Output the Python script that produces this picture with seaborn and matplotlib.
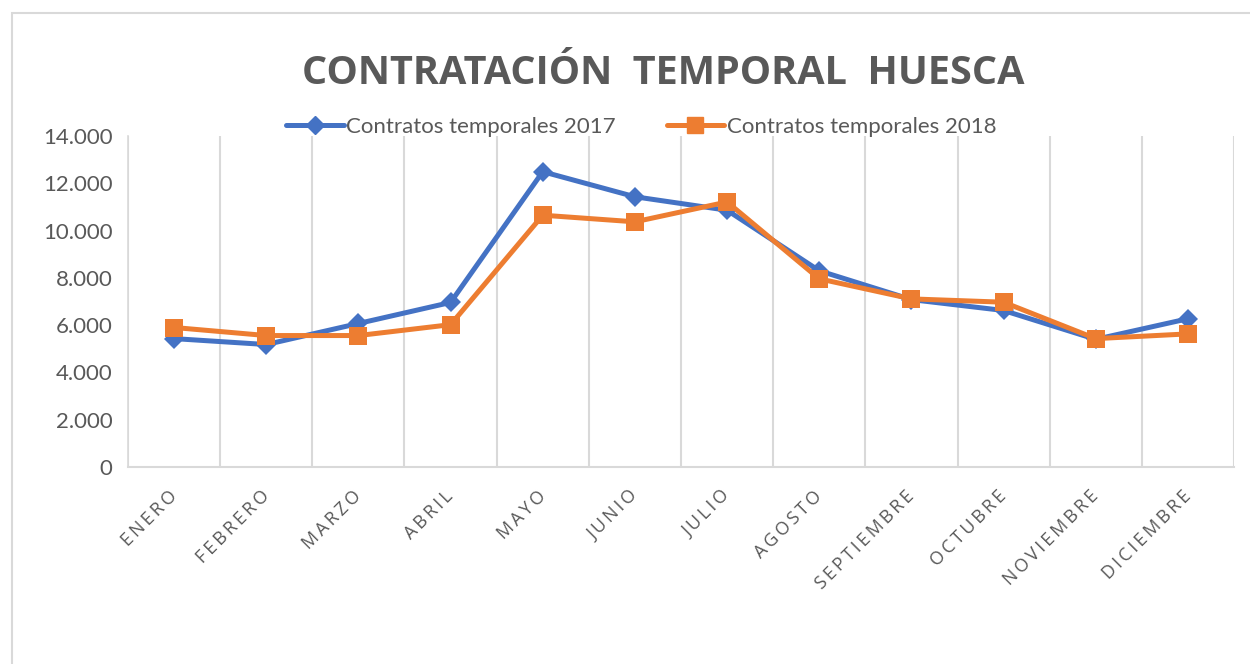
import matplotlib

matplotlib.use("Agg")

import matplotlib.pyplot as plt
import pandas as pd
import seaborn as sns
from matplotlib.patches import Rectangle
from matplotlib.ticker import FuncFormatter, FixedLocator

months = ["ENERO", "FEBRERO", "MARZO", "ABRIL", "MAYO", "JUNIO", "JULIO",
          "AGOSTO", "SEPTIEMBRE", "OCTUBRE", "NOVIEMBRE", "DICIEMBRE"]
temporales_2017 = [5430, 5180, 6070, 6960, 12490, 11430, 10860, 8300, 7080, 6620, 5400, 6270]
temporales_2018 = [5900, 5560, 5560, 6020, 10650, 10370, 11210, 7960, 7110, 6970, 5430, 5630]
series_names = ["Contratos temporales 2017", "Contratos temporales 2018"]
title = "CONTRATACIÓN  TEMPORAL  HUESCA"

df = pd.concat([
    pd.DataFrame({"mes": range(len(months)), "valor": temporales_2017, "serie": series_names[0]}),
    pd.DataFrame({"mes": range(len(months)), "valor": temporales_2018, "serie": series_names[1]}),
], ignore_index=True)

sns.set_theme(style="white")
plt.rcParams["font.family"] = ["Lato", "DejaVu Sans"]

text_color = "#595959"
grid_color = "#D9D9D9"
palette = {series_names[0]: "#4472C4", series_names[1]: "#ED7D31"}

fig = plt.figure(figsize=(12.5, 6.64), dpi=100)
ax = fig.add_axes([128 / 1250, 1 - 467 / 664, (1234 - 128) / 1250, (467 - 136) / 664])

# chart border (Excel chart area)
fig.patches.append(Rectangle((12 / 1250, -0.1), 1.2, 1 - 13 / 664 + 0.1, transform=fig.transFigure,
                             fill=False, edgecolor=grid_color, linewidth=1.5, zorder=0))

sns.lineplot(data=df, x="mes", y="valor", hue="serie", style="serie", palette=palette,
             markers={series_names[0]: "D", series_names[1]: "s"}, dashes=False,
             linewidth=3.6, ax=ax, legend=False)
for line, ms in zip(ax.get_lines(), [10.5, 13]):
    line.set_markersize(ms)
    line.set_markeredgewidth(0)

ax.set_xlim(-0.5, len(months) - 0.5)
ax.set_ylim(0, 14000)
ax.set_yticks(range(0, 14001, 2000))
ax.yaxis.set_major_formatter(FuncFormatter(lambda v, _: f"{v:,.0f}".replace(",", ".")))
ax.set_xticks(range(len(months)))
# Excel spaces the category letters out; imitate with thin spaces
ax.set_xticklabels(["\u2009".join(m) for m in months])
ax.xaxis.set_minor_locator(FixedLocator([i - 0.5 for i in range(len(months) + 1)]))
ax.grid(which="minor", axis="x", color=grid_color, linewidth=1.5)
ax.grid(which="major", visible=False)
ax.tick_params(axis="x", which="both", length=0, pad=19)
ax.tick_params(axis="y", length=0, pad=11, labelsize=16, labelcolor=text_color)
ax.set_xlabel("")
ax.set_ylabel("")
for lbl in ax.get_xticklabels():
    lbl.set_rotation(45)
    lbl.set_ha("right")
    lbl.set_va("center")
    lbl.set_rotation_mode("anchor")
    lbl.set_family(["Open Sans", "DejaVu Sans"])
    lbl.set_fontsize(13)
    lbl.set_color(text_color)

for side in ["top", "right"]:
    ax.spines[side].set_visible(False)
ax.spines["left"].set_color(grid_color)
ax.spines["left"].set_linewidth(1.2)
ax.spines["bottom"].set_color(grid_color)
ax.spines["bottom"].set_linewidth(1.5)

handles = [plt.Line2D([], [], color=palette[series_names[0]], marker="D", markersize=9, linewidth=3.6),
           plt.Line2D([], [], color=palette[series_names[1]], marker="s", markersize=12, linewidth=3.6)]
fig.legend(handles, series_names, loc="center", bbox_to_anchor=(641 / 1250, 1 - 127 / 664), ncol=2,
           frameon=False, fontsize=16, handlelength=2.6, handletextpad=0.1, columnspacing=2.3,
           labelcolor=text_color)

fig.text(663 / 1250, 1 - 73 / 664, title, ha="center", va="center", fontsize=28.5, fontweight="bold",
         color=text_color, family=["Open Sans", "DejaVu Sans"])

fig.savefig("out.png", dpi=100, facecolor="white")
